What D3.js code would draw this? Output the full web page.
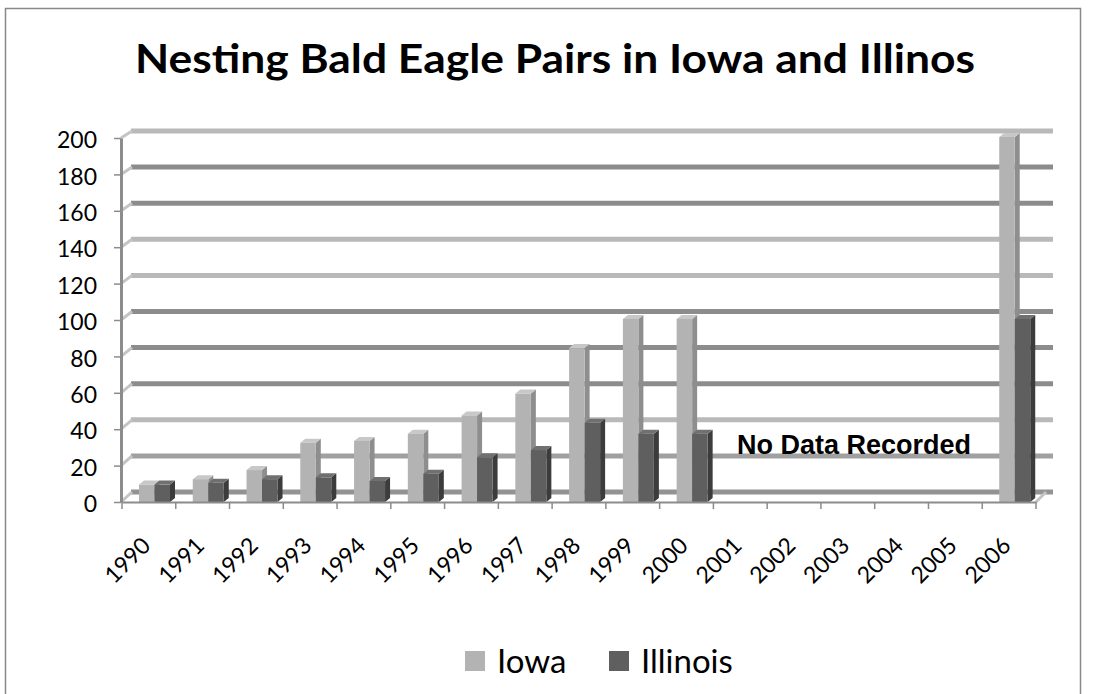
<!DOCTYPE html>
<html>
<head>
<meta charset="utf-8">
<script src="https://cdn.jsdelivr.net/npm/d3@7"></script>
<style>
  body { margin: 0; background: #fff; }
</style>
</head>
<body>
<div id="chart"></div>
<script>
// Dados
var years = ["1990","1991","1992","1993","1994","1995","1996","1997","1998","1999","2000","2001","2002","2003","2004","2005","2006"];
var iowa = [9, 12, 17, 32, 33, 37, 47, 59, 84, 100, 100, null, null, null, null, null, 200];
var illinois = [9, 10, 12, 13, 11, 15, 24, 28, 43, 37, 37, null, null, null, null, null, 100];
var seriesNames = ["Iowa", "Illinois"];
var yTicks = [0, 20, 40, 60, 80, 100, 120, 140, 160, 180, 200];
var title = "Nesting Bald Eagle Pairs in Iowa and Illinos";
var note = "No Data Recorded";

// Tamanho do svg
var w = 1094, h = 694;

var svg = d3.select("#chart")
  .append("svg")
  .attr("width", w)
  .attr("height", h);

// Borda do grafico
svg.append("rect")
  .attr("x", 5.5).attr("y", 8.5)
  .attr("width", 1075).attr("height", 720)
  .attr("fill", "none")
  .attr("stroke", "#888")
  .attr("stroke-width", 1.5);

// Escalas
var x = d3.scaleBand().domain(years).range([122, 1036]);
var xs = d3.scaleBand().domain(seriesNames).range([17, 48]);
var y = d3.scaleLinear().domain([0, 200]).range([502, 138]);      // plano da frente
var yBack = d3.scaleLinear().domain([0, 200]).range([492, 131]);  // parede do fundo

// Cores
var front = {Iowa: "#b3b3b3", Illinois: "#5f5f5f"};
var side = {Iowa: "#8e8e8e", Illinois: "#3c3c3c"};
var top3d = {Iowa: "#c8c8c8", Illinois: "#707070"};
var gridShade = ["#939393", "#a0a0a0", "#b9b9b9", "#8c8c8c", "#8c8c8c", "#8c8c8c", "#b9b9b9", "#b9b9b9", "#8c8c8c", "#8c8c8c", "#b9b9b9"];

// Linhas de grade na parede do fundo
svg.selectAll(".grid")
  .data(yTicks)
  .enter()
  .append("line")
  .attr("x1", 131).attr("x2", 1053)
  .attr("y1", function(d) { return yBack(d); })
  .attr("y2", function(d) { return yBack(d); })
  .attr("stroke", function(d, i) { return gridShade[i]; })
  .attr("stroke-width", 5);

// Diagonais ligando o eixo a parede
svg.selectAll(".diag")
  .data(yTicks)
  .enter()
  .append("line")
  .attr("x1", 121).attr("x2", 132)
  .attr("y1", function(d) { return y(d); })
  .attr("y2", function(d) { return yBack(d); })
  .attr("stroke", "#c4c4c4")
  .attr("stroke-width", 3);

svg.append("line")
  .attr("x1", x.range()[1]).attr("x2", x.range()[1] + 10)
  .attr("y1", y(0)).attr("y2", yBack(0))
  .attr("stroke", "#c4c4c4")
  .attr("stroke-width", 3);

// Barras 3D
var dx = 5, dy = 4;
var bars = [];
years.forEach(function(yr, i) {
  if (iowa[i] != null) bars.push({year: yr, name: "Iowa", value: iowa[i]});
  if (illinois[i] != null) bars.push({year: yr, name: "Illinois", value: illinois[i]});
});

var bar = svg.selectAll(".bar")
  .data(bars)
  .enter()
  .append("g");

function bx(d) { return x(d.year) + xs(d.name); }
function btop(d) { return y(d.value) - 1; }
var bw = xs.bandwidth();
var bBottom = y(0);

bar.append("polygon")
  .attr("points", function(d) {
    var x0 = bx(d) + bw, t = btop(d);
    return [[x0, t], [x0 + dx, t - dy], [x0 + dx, bBottom - dy], [x0, bBottom]].join(" ");
  })
  .attr("fill", function(d) { return side[d.name]; });

bar.append("polygon")
  .attr("points", function(d) {
    var x0 = bx(d), t = btop(d);
    return [[x0, t], [x0 + dx, t - dy], [x0 + bw + dx, t - dy], [x0 + bw, t]].join(" ");
  })
  .attr("fill", function(d) { return top3d[d.name]; });

bar.append("rect")
  .attr("x", function(d) { return bx(d); })
  .attr("y", function(d) { return btop(d); })
  .attr("width", bw)
  .attr("height", function(d) { return bBottom - btop(d); })
  .attr("fill", function(d) { return front[d.name]; });

// Eixo y
var yAxis = d3.axisLeft(y).tickValues(yTicks).tickSize(7).tickSizeOuter(0).tickPadding(17);
var gy = svg.append("g")
  .attr("transform", "translate(121,0)")
  .call(yAxis);
gy.select(".domain").attr("stroke", "#8c8c8c").attr("stroke-width", 3);
gy.selectAll(".tick line").attr("stroke", "#8c8c8c").attr("stroke-width", 1.5);
gy.selectAll(".tick text")
  .attr("dy", "0.42em")
  .attr("fill", "#000")
  .style("font-family", "Lato")
  .style("font-size", "23px");

// Eixo x
var xAxis = d3.axisBottom(x).tickSize(0).tickSizeOuter(0);
var gx = svg.append("g")
  .attr("transform", "translate(0," + y(0) + ")")
  .call(xAxis);
gx.select(".domain").attr("stroke", "#8c8c8c").attr("stroke-width", 2);
gx.selectAll(".tick text")
  .attr("x", 0).attr("y", 0).attr("dy", 0)
  .attr("transform", "translate(3,45) rotate(-45)")
  .style("text-anchor", "end")
  .attr("fill", "#000")
  .style("font-family", "Lato")
  .style("font-size", "23px");

// Marcas entre categorias
var bounds = years.map(function(d) { return x(d); }).concat([x.range()[1]]);
svg.selectAll(".xtick")
  .data(bounds)
  .enter()
  .append("line")
  .attr("x1", function(d) { return d; })
  .attr("x2", function(d) { return d; })
  .attr("y1", y(0)).attr("y2", y(0) + 7)
  .attr("stroke", "#8c8c8c")
  .attr("stroke-width", 1.5);

// Titulo
svg.append("text")
  .attr("x", 555)
  .attr("y", 73)
  .attr("text-anchor", "middle")
  .attr("textLength", 840)
  .attr("lengthAdjust", "spacingAndGlyphs")
  .style("font-family", "Lato")
  .style("font-weight", "bold")
  .style("font-size", "41px")
  .text(title);

// Anotacao
svg.append("text")
  .attr("x", 737)
  .attr("y", 454)
  .style("font-family", "Liberation Sans")
  .style("font-weight", "bold")
  .style("font-size", "27px")
  .text(note);

// Legenda
var legendX = [465, 609];
var legend = svg.selectAll(".legend")
  .data(seriesNames)
  .enter()
  .append("g")
  .attr("transform", function(d, i) { return "translate(" + legendX[i] + ",651)"; });

legend.append("rect")
  .attr("width", 20).attr("height", 20)
  .attr("fill", function(d) { return front[d]; });

legend.append("text")
  .attr("x", 32)
  .attr("y", 22)
  .style("font-family", "Lato")
  .style("font-size", "33px")
  .text(function(d) { return d; });
</script>
</body>
</html>
